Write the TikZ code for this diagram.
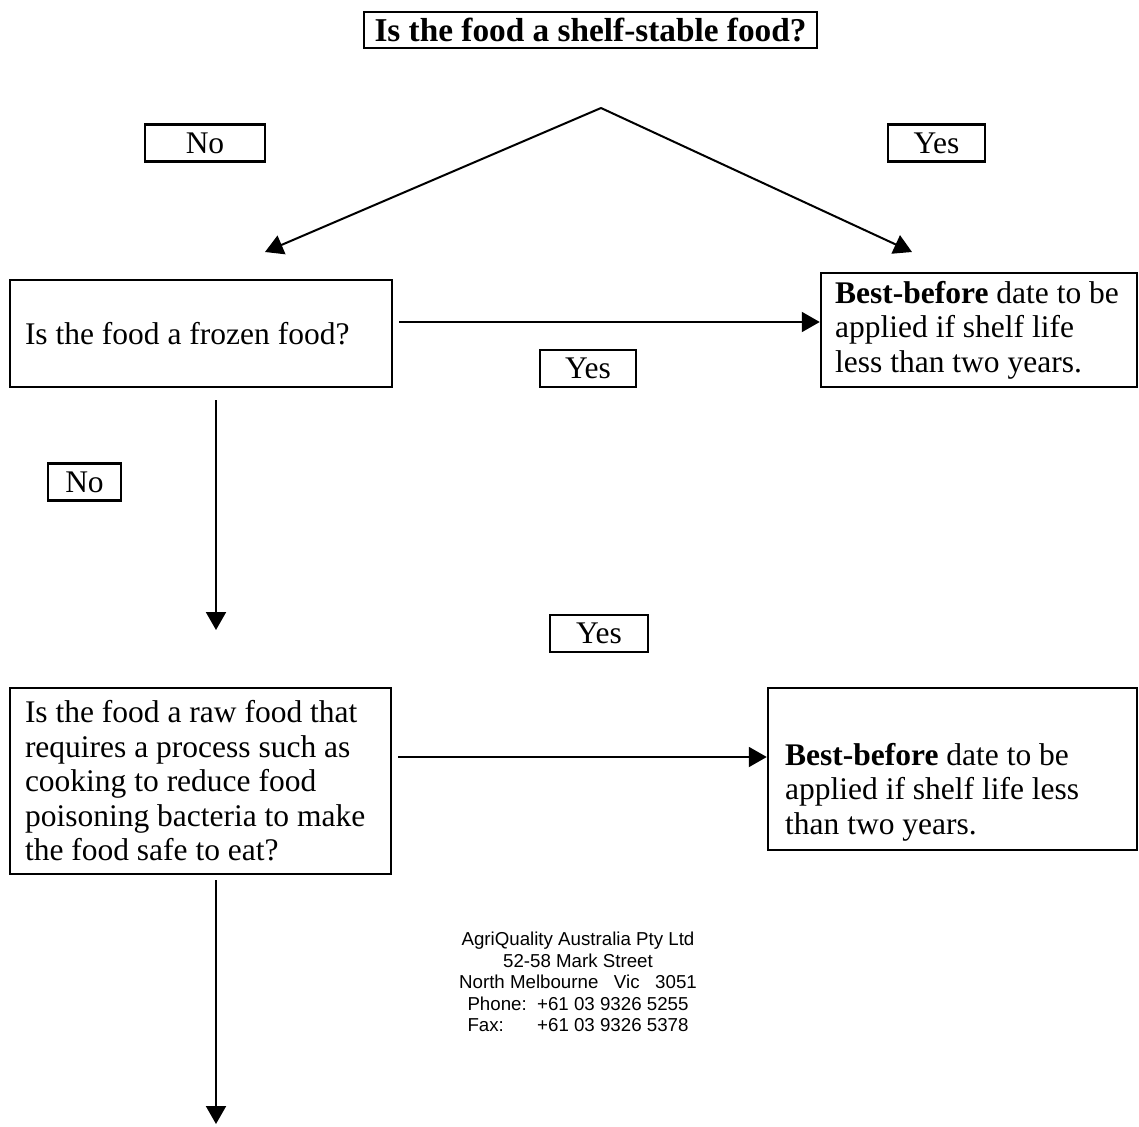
\documentclass[tikz,border=0pt]{standalone}
\usepackage{fontspec}
\setmainfont{Liberation Serif}
\newfontfamily\addrfont{Liberation Sans}
\usetikzlibrary{arrows.meta}
\tikzset{
  bodyfont/.style={font=\fontsize{31.5}{34.5}\selectfont},
  box/.style={draw, line width=2.5pt, inner sep=0pt, bodyfont},
  txtbox/.style={box, align=flush left, inner xsep=15pt, inner ysep=0pt},
  lbl/.style={box, minimum height=37pt},
  boxtext/.style={anchor=west, align=flush left, inner sep=0pt, bodyfont},
  arr/.style={line width=2pt, -{Triangle[length=18pt,width=20pt]}},
}
\begin{document}
\begin{tikzpicture}[x=1pt,y=-1pt]
\useasboundingbox (0,0) rectangle (1139,1126);
% title
\node[box, minimum width=453pt, minimum height=36pt, font=\fontsize{33.3}{36}\selectfont\bfseries] (title) at (590.5,30) {Is the food a shelf-stable food?};
% labels
\node[lbl, minimum width=120pt] (noA) at (205,143) {No};
\node[lbl, minimum width=97pt] (yesA) at (936.5,143) {Yes};
\node[lbl, minimum width=96pt] (yesB) at (588,368.5) {Yes};
\node[lbl, minimum width=73pt] (noB) at (84.5,482) {No};
\node[lbl, minimum width=98pt] (yesC) at (599,633.5) {Yes};
% question boxes
\node[txtbox, text width=352pt, minimum height=107pt] (frozen) at (201,333.5) {Is the food a frozen food?};
\node[box, minimum width=316pt, minimum height=114pt] (bb1) at (979,330) {};
\node[boxtext] (bb1t) at (835,330) {\textbf{Best-before} date to be\\applied if shelf life\\less than two years.};
\node[txtbox, text width=351pt, minimum height=186pt] (raw) at (200.5,781) {Is the food a raw food that\\requires a process such as\\cooking to reduce food\\poisoning bacteria to make\\the food safe to eat?};
\node[box, minimum width=369pt, minimum height=162pt] (bb2) at (952.5,769) {};
\node[boxtext] (bb2t) at (785,792) {\textbf{Best-before} date to be\\applied if shelf life less\\than two years.};
% address
\node[align=center, inner sep=0pt, font=\addrfont\fontsize{18.7}{21.5}\selectfont] (addr) at (578,982) {AgriQuality Australia Pty Ltd\\52-58 Mark Street\\North Melbourne\ \ \ Vic\ \ \ 3051\\Phone:\ \ +61 03 9326 5255\\\makebox[3.725em][l]{Fax:}+61 03 9326 5378};
% connector points
\coordinate (peak) at (601,108);
\coordinate (tipL) at (265,252);
\coordinate (tipR) at (912,252);
\coordinate (down1s) at (216,400);
\coordinate (down1) at (216,630);
\coordinate (down2s) at (216,880);
\coordinate (down2) at (216,1124);
% connectors
\draw[arr] (peak) -- (tipL);
\draw[arr] (peak) -- (tipR);
\draw[arr] ([xshift=6pt,yshift=11.5pt]frozen.east) -- ([yshift=8pt]bb1.west);
\draw[arr] (down1s) -- (down1);
\draw[arr] ([xshift=6pt,yshift=24pt]raw.east) -- ([yshift=12pt]bb2.west);
\draw[arr] (down2s) -- (down2);
\end{tikzpicture}
\end{document}
